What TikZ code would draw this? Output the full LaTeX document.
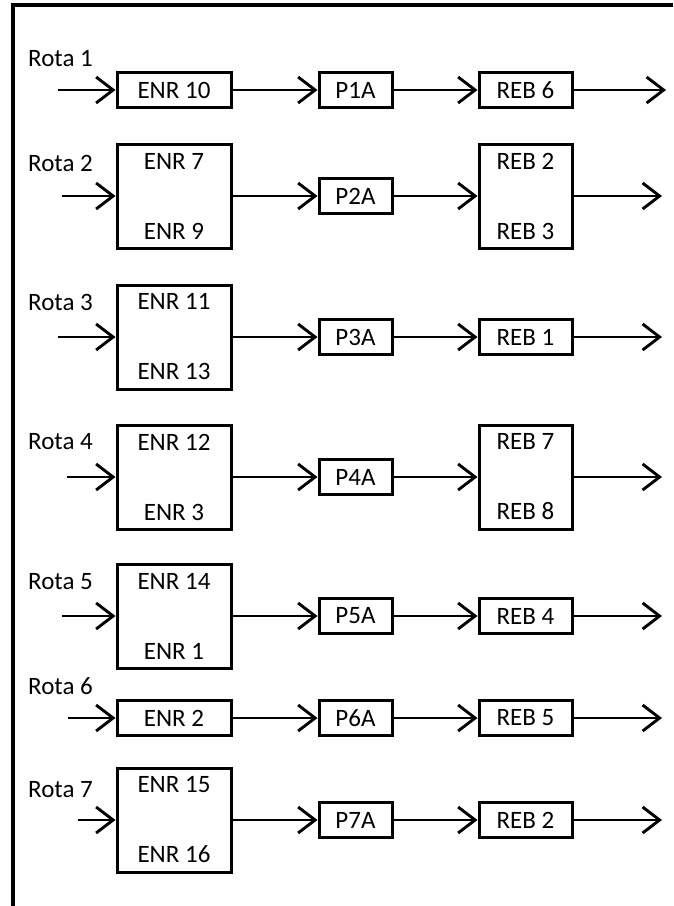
\documentclass[tikz,border=0pt]{standalone}
\usepackage{fontspec}
\setmainfont{Carlito}
\usetikzlibrary{positioning,arrows.meta}

\tikzstyle{box} = [rectangle, inner sep=0pt, draw=black, line width=3pt, align=center, font=\fontsize{25}{30}\selectfont]
\tikzstyle{enr} = [box, minimum width=114pt, minimum height=35pt]
\tikzstyle{pst} = [box, minimum width=73pt, minimum height=35pt]
\tikzstyle{reb} = [box, minimum width=93pt, minimum height=35pt]
\tikzstyle{tall} = [minimum height=104pt]
\tikzstyle{rota} = [anchor=west, inner sep=0pt, font=\fontsize{25}{30}\selectfont]
\tikzstyle{arrow} = [line width=2.9pt, -{Straight Barb[length=17pt, width=26pt, line width=2.9pt]}]
\tikzstyle{frame} = [line width=3.2pt]

\begin{document}
\begin{tikzpicture}[x=1pt, y=-1pt, node distance=170pt]

  \useasboundingbox (0,0) rectangle (673,906);
  \draw [frame] (13,906) -- (13,5) -- (673,5);

  % --- Rota 1 --- %
  \node (r1) [rota] at (28,59) {Rota 1};
  \node (e1) [enr] at (174,90) {ENR 10};
  \node (p1) [pst, right of=e1, xshift=11.5pt] {P1A};
  \node (b1) [reb, right of=p1] {REB 6};
  \coordinate (i1) at (58,90);
  \coordinate (o1) at (666,90);

  % --- Rota 2 --- %
  \node (r2) [rota] at (28,163) {Rota 2};
  \node (e2) [enr, tall] at (174,196) {ENR 7\\[40pt]ENR 9};
  \node (p2) [pst, right of=e2, xshift=11.5pt] {P2A};
  \node (b2) [reb, tall, right of=p2] {REB 2\\[40pt]REB 3};
  \coordinate (i2) at (62,196);
  \coordinate (o2) at (662,196);

  % --- Rota 3 --- %
  \node (r3) [rota] at (28,302) {Rota 3};
  \node (e3) [enr, tall] at (174,337) {ENR 11\\[40pt]ENR 13};
  \node (p3) [pst, right of=e3, xshift=11.5pt] {P3A};
  \node (b3) [reb, right of=p3] {REB 1};
  \coordinate (i3) at (58,337);
  \coordinate (o3) at (662,337);

  % --- Rota 4 --- %
  \node (r4) [rota] at (28,442) {Rota 4};
  \node (e4) [enr, tall] at (174,477) {ENR 12\\[40pt]ENR 3};
  \node (p4) [pst, right of=e4, xshift=11.5pt] {P4A};
  \node (b4) [reb, tall, right of=p4] {REB 7\\[40pt]REB 8};
  \coordinate (i4) at (67,477);
  \coordinate (o4) at (662,477);

  % --- Rota 5 --- %
  \node (r5) [rota] at (28,582) {Rota 5};
  \node (e5) [enr, tall] at (174,616) {ENR 14\\[40pt]ENR 1};
  \node (p5) [pst, right of=e5, xshift=11.5pt] {P5A};
  \node (b5) [reb, right of=p5] {REB 4};
  \coordinate (i5) at (62,616);
  \coordinate (o5) at (662,616);

  % --- Rota 6 --- %
  \node (r6) [rota] at (28,686) {Rota 6};
  \node (e6) [enr] at (174,718) {ENR 2};
  \node (p6) [pst, right of=e6, xshift=11.5pt] {P6A};
  \node (b6) [reb, right of=p6] {REB 5};
  \coordinate (i6) at (68,718);
  \coordinate (o6) at (662,718);

  % --- Rota 7 --- %
  \node (r7) [rota] at (28,790) {Rota 7};
  \node (e7) [enr, tall] at (174,820) {ENR 15\\[40pt]ENR 16};
  \node (p7) [pst, right of=e7, xshift=11.5pt] {P7A};
  \node (b7) [reb, right of=p7] {REB 2};
  \coordinate (i7) at (78,820);
  \coordinate (o7) at (662,820);

  % --- %

  \draw [arrow] (i1) -- (e1);
  \draw [arrow] (e1) -- (p1);
  \draw [arrow] (p1) -- (b1);
  \draw [arrow] (b1) -- (o1);

  \draw [arrow] (i2) -- (e2);
  \draw [arrow] (e2) -- (p2);
  \draw [arrow] (p2) -- (b2);
  \draw [arrow] (b2) -- (o2);

  \draw [arrow] (i3) -- (e3);
  \draw [arrow] (e3) -- (p3);
  \draw [arrow] (p3) -- (b3);
  \draw [arrow] (b3) -- (o3);

  \draw [arrow] (i4) -- (e4);
  \draw [arrow] (e4) -- (p4);
  \draw [arrow] (p4) -- (b4);
  \draw [arrow] (b4) -- (o4);

  \draw [arrow] (i5) -- (e5);
  \draw [arrow] (e5) -- (p5);
  \draw [arrow] (p5) -- (b5);
  \draw [arrow] (b5) -- (o5);

  \draw [arrow] (i6) -- (e6);
  \draw [arrow] (e6) -- (p6);
  \draw [arrow] (p6) -- (b6);
  \draw [arrow] (b6) -- (o6);

  \draw [arrow] (i7) -- (e7);
  \draw [arrow] (e7) -- (p7);
  \draw [arrow] (p7) -- (b7);
  \draw [arrow] (b7) -- (o7);

\end{tikzpicture}
\end{document}
